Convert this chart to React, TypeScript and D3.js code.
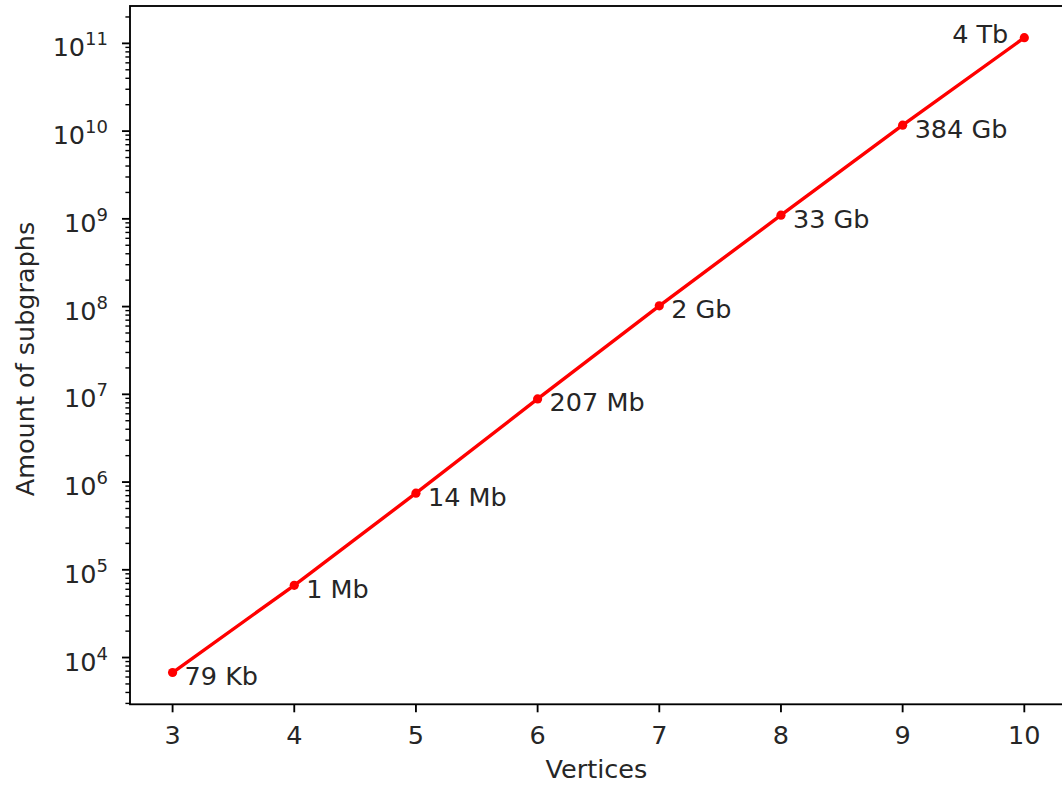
import React from 'react';
import * as d3 from 'd3';

const vertices = [3, 4, 5, 6, 7, 8, 9, 10];
const subgraphs = [6750, 66500, 747000, 8.87e6, 1.02e8, 1.10e9, 1.17e10, 1.16e11];
const sizeLabels = ['79 Kb', '1 Mb', '14 Mb', '207 Mb', '2 Gb', '33 Gb', '384 Gb', '4 Tb'];
const xTicks = [3, 4, 5, 6, 7, 8, 9, 10];
const yExponents = [4, 5, 6, 7, 8, 9, 10, 11];

const W = 1062;
const H = 785;
const left = 130;
const top = 6;
const bottom = 704.3;
const right = 1066.9;
const font = 'DejaVu Sans, sans-serif';
const fs = 25.5;

const App = () => {
  const x = d3.scaleLinear().domain([2.65, 10.35]).range([left, right]);
  const y = d3.scaleLog().domain([Math.pow(10, 3.467), Math.pow(10, 11.426)]).range([bottom, top]);

  const line = d3.line<number>()
    .x((_, i) => x(vertices[i]))
    .y(d => y(d));

  // minor ticks on the log axis
  const minor: number[] = [];
  for (let e = 3; e <= 11; e++) {
    for (let m = 2; m <= 9; m++) {
      const v = m * Math.pow(10, e);
      if (v >= y.domain()[0] && v <= y.domain()[1]) minor.push(v);
    }
  }

  return (
    <svg width={W} height={H} style={{ position: 'absolute', left: 0, top: 0, background: '#fff' }}
      fontFamily={font}>
      <defs>
        <clipPath id="plot">
          <rect x={left} y={top} width={right - left} height={bottom - top} />
        </clipPath>
      </defs>

      {/* line + points */}
      <g clipPath="url(#plot)">
        <path d={line(subgraphs) || ''} fill="none" stroke="#ff0000" strokeWidth={3.4} />
        {subgraphs.map((d, i) => (
          <circle key={i} cx={x(vertices[i])} cy={y(d)} r={4.6} fill="#ff0000" />
        ))}
      </g>

      {/* annotations */}
      {subgraphs.map((d, i) => {
        const last = i === subgraphs.length - 1;
        return (
          <text key={i}
            x={x(vertices[i]) + (last ? -16 : 12)}
            y={y(d) + (last ? 5.5 : 12.5)}
            textAnchor={last ? 'end' : 'start'}
            fontSize={fs} fill="#262626">
            {sizeLabels[i]}
          </text>
        );
      })}

      {/* spines */}
      <rect x={left} y={top} width={right - left} height={bottom - top} fill="none" stroke="#000" strokeWidth={1.85} />

      {/* x axis */}
      {xTicks.map(t => (
        <g key={t} transform={`translate(${x(t)},${bottom})`}>
          <line y2={8} stroke="#000" strokeWidth={1.85} />
          <text y={39.5} textAnchor="middle" fontSize={fs} fill="#262626">{t}</text>
        </g>
      ))}
      <text x={(left + right) / 2 - 2} y={778} textAnchor="middle" fontSize={fs} fill="#262626">Vertices</text>

      {/* y axis */}
      {minor.map((v, i) => (
        <line key={i} x1={left} x2={left - 4.6} y1={y(v)} y2={y(v)} stroke="#000" strokeWidth={1.4} />
      ))}
      {yExponents.map(e => (
        <g key={e} transform={`translate(${left},${y(Math.pow(10, e))})`}>
          <line x2={-8} stroke="#000" strokeWidth={1.85} />
          <text x={-22} y={13} textAnchor="end" fontSize={fs} fill="#262626">
            10
            <tspan dy={-11} fontSize={18}>{e}</tspan>
          </text>
        </g>
      ))}
      <text transform={`translate(34,359) rotate(-90)`} textAnchor="middle"
        fontSize={fs} fill="#262626">Amount of subgraphs</text>
    </svg>
  );
};

export default App;
